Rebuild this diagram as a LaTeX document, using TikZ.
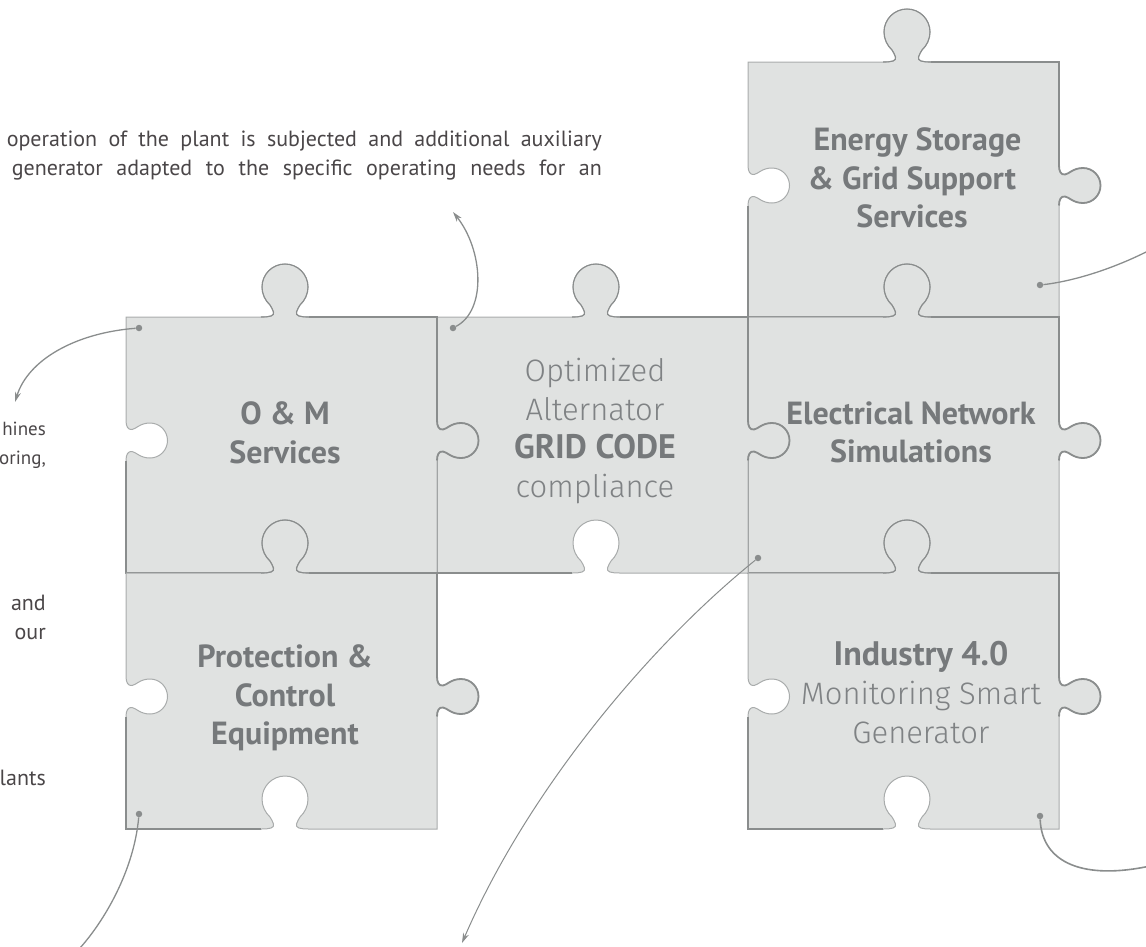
\documentclass[tikz,border=0pt]{standalone}
\usepackage{fontspec}
\setmainfont{PT Sans}
\newfontfamily\lightf{Fira Sans Light}
\newfontfamily\boldf{PT Sans Bold}
\usetikzlibrary{arrows.meta}
\definecolor{fillc}{HTML}{E0E2E1}
\definecolor{edgec}{HTML}{A9ACAC}
\definecolor{edged}{HTML}{8A8D8D}
\definecolor{labelc}{HTML}{76797B}
\definecolor{lightc}{HTML}{7F8284}
\definecolor{bodyc}{HTML}{4A4648}
\newcommand\vtab[3]{%
 -- (#1+#3*-24,#2) .. controls (#1+#3*-15,#2) and (#1+#3*-10.5,#2-1) .. (#1+#3*-11.5,#2-5)
 .. controls (#1+#3*-12,#2-8) and (#1+#3*-14,#2-9.5) .. (#1+#3*-15,#2-12)
 .. controls (#1+#3*-19.9,#2-16.5) and (#1+#3*-23,#2-23) .. (#1+#3*-23,#2-30)
 .. controls (#1+#3*-23,#2-42.7) and (#1+#3*-12.7,#2-53) .. (#1,#2-53)
 .. controls (#1+#3*12.7,#2-53) and (#1+#3*23,#2-42.7) .. (#1+#3*23,#2-30)
 .. controls (#1+#3*23,#2-23) and (#1+#3*19.9,#2-16.5) .. (#1+#3*15,#2-12)
 .. controls (#1+#3*14,#2-9.5) and (#1+#3*12,#2-8) .. (#1+#3*11.5,#2-5)
 .. controls (#1+#3*10.5,#2-1) and (#1+#3*15,#2) .. (#1+#3*24,#2)}
\newcommand\htab[3]{%
 -- (#1,#2+#3*-20) .. controls (#1,#2+#3*-14) and (#1+2,#2+#3*-10.5) .. (#1+6,#2+#3*-11)
 .. controls (#1+10,#2+#3*-11.5) and (#1+14,#2+#3*-17.5) .. (#1+24,#2+#3*-17.5)
 .. controls (#1+33.7,#2+#3*-17.5) and (#1+41.5,#2+#3*-9.7) .. (#1+41.5,#2)
 .. controls (#1+41.5,#2+#3*9.7) and (#1+33.7,#2+#3*17.5) .. (#1+24,#2+#3*17.5)
 .. controls (#1+14,#2+#3*17.5) and (#1+10,#2+#3*11.5) .. (#1+6,#2+#3*11)
 .. controls (#1+2,#2+#3*10.5) and (#1,#2+#3*14) .. (#1,#2+#3*20)}
% left, top, right, bottom
\newcommand\piece[4]{%
 \path[fill=fillc,draw=edgec,line width=1pt] (#1,#2) \vtab{#1+159}{#2}{1} -- (#3,#2)
   \htab{#3}{#2+123.5}{1} -- (#3,#4) -- (#1+183,#4)
   \vtab{#1+159}{#4}{-1} -- (#1,#4) \htab{#1}{#2+123.5}{-1} -- cycle;
 \draw[edged,line width=1.1pt] (#1+135,#2) \vtab{#1+159}{#2}{1};
 \draw[edged,line width=1.8pt] (#1+183,#2) -- (#3,#2) -- (#3,#2+103.5) \htab{#3}{#2+123.5}{1};
 \draw[edged,line width=1.8pt] (#1,#2+143.5) -- (#1,#4) -- (#1+135,#4);
}
\newcommand\bigbold{\fontsize{34}{38.6}\selectfont\boldf\color{labelc}}
\tikzset{
 title/.style={text=labelc,font=\fontsize{32}{38.6}\selectfont\boldf,align=center,inner sep=0pt},
 titlelight/.style={text=lightc,font=\fontsize{31}{38.6}\selectfont\lightf,align=center,inner sep=0pt},
 body/.style={text=bodyc,font=\fontsize{22}{24}\selectfont,inner sep=0pt},
 bodysmall/.style={text=bodyc,font=\fontsize{19}{24}\selectfont,inner sep=0pt},
 dotn/.style={circle,fill=edged,inner sep=0pt,minimum size=6.5pt},
 lead/.style={edged,line width=1.3pt},
 thinlead/.style={edged,line width=1pt},
 leadtip/.style={-{Stealth[length=10pt,width=6pt,inset=3pt]}}
}
\begin{document}
\begin{tikzpicture}[x=1pt,y=-1pt]
\useasboundingbox (0,0) rectangle (1146,946);
\clip (0,0) rectangle (1146,946);
\piece{748}{62}{1059}{317}
\piece{748}{317}{1059}{573}
\piece{748}{573}{1059}{829}
\piece{437}{317}{748}{573}
\piece{126}{317}{437}{573}
\piece{126}{573}{437}{829}

\node[title] (energy) at (912,178) {\hspace*{11pt}Energy Storage\\\& Grid Support\\Services};
\node[title] (om) at (285,432.5) {O \& M\\Services};
\node[titlelight] (optim) at (595,431) {Optimized\\Alternator\\{\bigbold GRID CODE}\\compliance};
\node[title] (elec) at (911,432.5) {Electrical Network\\Simulations};
\node[title] (prot) at (285,698) {Protection \&\\Control\\Equipment};
\node[titlelight] (ind) at (921,692.5) {{\bigbold Industry 4.0}\\Monitoring Smart\\Generator};

\node[body,anchor=base east] (t1) at (602,146) {\makebox[595pt][s]{operation of the plant is subjected and additional auxiliary}};
\node[body,anchor=base east] (t2) at (602,175) {\makebox[590pt][s]{generator adapted to the specific operating needs for an}};
\node[bodysmall,anchor=base east] (t3) at (46,435) {hines};
\node[bodysmall,anchor=base east] (t4) at (46,464) {oring,};
\node[body,anchor=base east] (t5) at (46,610) {and};
\node[body,anchor=base east] (t6) at (46,639) {our};
\node[body,anchor=base east] (t7) at (46,785) {lants};

\node[dotn] (d1) at (139,328) {};
\node[dotn] (d2) at (453,328) {};
\node[dotn] (d3) at (1040,285) {};
\node[dotn] (d4) at (139,814) {};
\node[dotn] (d5) at (758,558) {};
\node[dotn] (d6) at (1040,816) {};
\coordinate (e1) at (15,402);
\coordinate (e2) at (453,212);
\coordinate (e3) at (1150,250);
\coordinate (e4) at (80,948);
\coordinate (e5) at (462,943);
\coordinate (e6) at (1150,866);
\draw[lead,leadtip] (d1) .. controls (75,333) and (28,360) .. (e1);
\draw[lead,leadtip] (d2) .. controls (487,310) and (483,250) .. (e2);
\draw[lead] (d3) .. controls (1075,281) and (1115,268) .. (e3);
\draw[lead] (d4) .. controls (134,870) and (105,920) .. (e4);
\draw[thinlead,leadtip] (d5) .. controls (650,645) and (528,790) .. (e5);
\draw[lead,line width=1.6pt] (d6) .. controls (1042,864) and (1085,880) .. (e6);
\end{tikzpicture}
\end{document}
